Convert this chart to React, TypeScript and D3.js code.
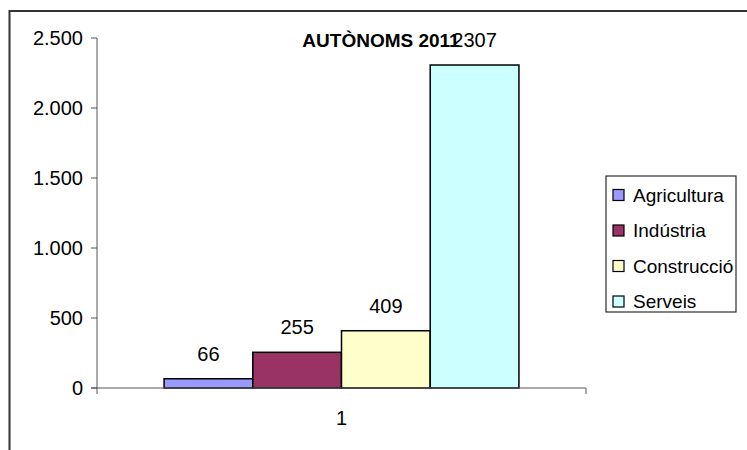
import React from "react";
import * as d3 from "d3";

const categories = ["1"];
const seriesNames = ["Agricultura", "Indústria", "Construcció", "Serveis"];
const seriesValues = [66, 255, 409, 2307];
const seriesColors = ["#9999FF", "#993366", "#FFFFCC", "#CCFFFF"];
const yTicks = [0, 500, 1000, 1500, 2000, 2500];
const title = "AUTÒNOMS 2011";

const W = 747;
const H = 450;
const plot = { left: 97, right: 586, top: 38, bottom: 388 };

const locale = d3.formatLocale({ decimal: ",", thousands: ".", grouping: [3], currency: ["", "€"] });
const fmt = locale.format(",d");

export default function App() {
  const y = d3.scaleLinear().domain([0, 2500]).range([plot.bottom, plot.top]);
  const x0 = d3
    .scaleBand<string>()
    .domain(categories)
    .range([plot.left, plot.right])
    .paddingInner(0)
    .paddingOuter(0.189);
  const x1 = d3
    .scaleBand<string>()
    .domain(seriesNames)
    .range([0, x0.bandwidth()])
    .padding(0);

  const font = "'Liberation Sans', Arial, sans-serif";
  const axisColor = "#555";

  return (
    <svg
      width={W}
      height={H}
      style={{ position: "absolute", left: 0, top: 0, background: "#fff" }}
      fontFamily={font}
    >
      <rect x={0} y={0} width={W} height={H} fill="#fff" />
      <rect x={9.5} y={11} width={W + 20} height={H + 20} fill="none" stroke="#333" strokeWidth={2} />

      {/* y axis */}
      <line x1={plot.left} x2={plot.left} y1={plot.top} y2={plot.bottom} stroke={axisColor} strokeWidth={1} />
      {yTicks.map((t) => (
        <g key={t}>
          <line x1={plot.left - 6} x2={plot.left} y1={y(t)} y2={y(t)} stroke={axisColor} />
          <text x={plot.left - 14} y={y(t)} dy="0.35em" textAnchor="end" fontSize={20} fill="#000">
            {fmt(t)}
          </text>
        </g>
      ))}

      {/* bars */}
      {categories.map((c) => (
        <g key={c} transform={`translate(${x0(c)},0)`}>
          {seriesNames.map((s, i) => (
            <rect
              key={s}
              x={x1(s)}
              y={y(seriesValues[i])}
              width={x1.bandwidth()}
              height={y(0) - y(seriesValues[i])}
              fill={seriesColors[i]}
              stroke="#000"
              strokeWidth={1.5}
            />
          ))}
        </g>
      ))}

      {/* x axis */}
      <line x1={plot.left - 6} x2={plot.right} y1={plot.bottom} y2={plot.bottom} stroke={axisColor} strokeWidth={1} />
      <line x1={plot.left} x2={plot.left} y1={plot.bottom} y2={plot.bottom + 6} stroke={axisColor} />
      <line x1={plot.right} x2={plot.right} y1={plot.bottom} y2={plot.bottom + 6} stroke={axisColor} />
      {categories.map((c) => (
        <text key={c} x={(x0(c) as number) + x0.bandwidth() / 2} y={425} textAnchor="middle" fontSize={20} fill="#000">
          {c}
        </text>
      ))}

      {/* title */}
      <text x={381} y={47} textAnchor="middle" fontSize={19} fontWeight="bold" fill="#000">
        {title}
      </text>

      {/* data labels */}
      {categories.map((c) =>
        seriesNames.map((s, i) => (
          <text
            key={s}
            x={(x0(c) as number) + (x1(s) as number) + x1.bandwidth() / 2}
            y={y(seriesValues[i]) - 18}
            textAnchor="middle"
            fontSize={20}
            fill="#000"
          >
            {seriesValues[i]}
          </text>
        ))
      )}

      {/* legend */}
      <rect x={606} y={176} width={130} height={136} fill="#fff" stroke="#000" strokeWidth={1} />
      {seriesNames.map((s, i) => (
        <g key={s} transform={`translate(613,${195 + i * 35.5})`}>
          <rect x={0} y={-5.5} width={11} height={11} fill={seriesColors[i]} stroke="#000" strokeWidth={1.2} />
          <text x={20} y={0} dy="0.35em" fontSize={19} fill="#000">
            {s}
          </text>
        </g>
      ))}
    </svg>
  );
}
